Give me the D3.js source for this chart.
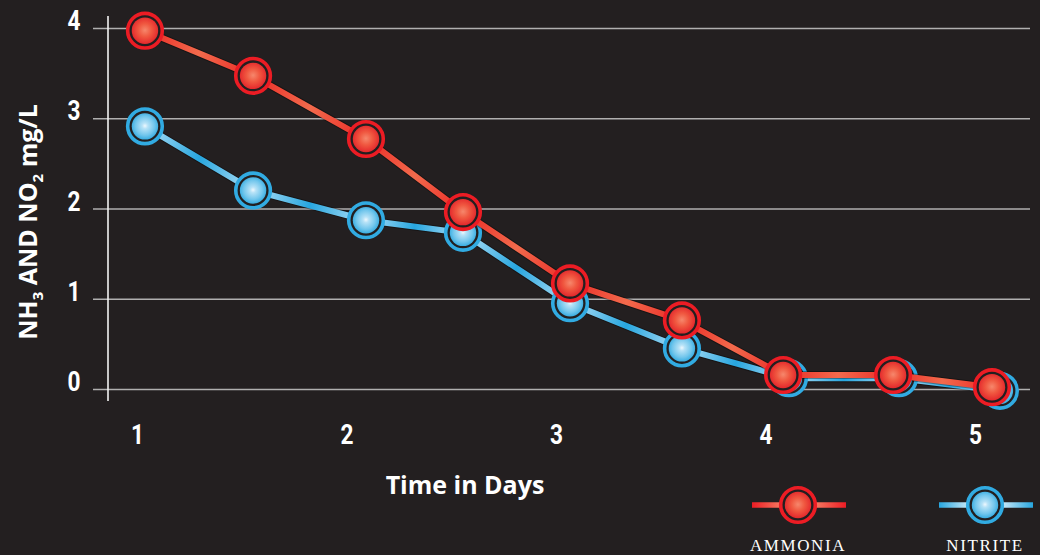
<!DOCTYPE html>
<html>
<head>
<meta charset="utf-8">
<script src="https://cdn.jsdelivr.net/npm/d3@7"></script>
<style>
  html, body { margin: 0; padding: 0; background: #231f20; }
  svg { display: block; }
</style>
</head>
<body>
<script>
// Sample times (days) and concentrations (mg/L)
const ammoniaDays  = [1.038, 1.554, 2.093, 2.556, 3.067, 3.601, 4.084, 4.609, 5.081];
const ammoniaVals  = [3.97, 3.47, 2.77, 1.96, 1.17, 0.76, 0.155, 0.155, 0.02];
const nitriteDays  = [1.038, 1.554, 2.093, 2.556, 3.067, 3.601, 4.112, 4.637, 5.119];
const nitriteVals  = [2.91, 2.20, 1.87, 1.73, 0.95, 0.45, 0.12, 0.12, -0.02];
const xTickValues  = [1, 2, 3, 4, 5];
const yTickValues  = [0, 1, 2, 3, 4];
const seriesNames  = ["AMMONIA", "NITRITE"];

const W = 1040, H = 555;
const BG = "#231f20";
const TICK_FONT = "'Roboto', 'Open Sans', sans-serif";

const svg = d3.select("body").append("svg")
  .attr("width", W).attr("height", H);

svg.append("rect").attr("width", W).attr("height", H).attr("fill", BG);

const x = d3.scaleLinear().domain([1, 5]).range([137, 975]);
const y = d3.scaleLinear().domain([0, 4]).range([389, 28]);

const defs = svg.append("defs");

// Sphere fills for the markers
function radial(id, stops) {
  const g = defs.append("radialGradient").attr("id", id)
    .attr("cx", "50%").attr("cy", "48%").attr("r", "55%");
  stops.forEach(([o, c]) => g.append("stop").attr("offset", o).attr("stop-color", c));
}
radial("ballRed",  [[0, "#f6876c"], [0.45, "#f05840"], [1, "#e3232a"]]);
radial("ballBlue", [[0, "#eef8fe"], [0.2, "#b6e2f7"], [0.65, "#72c6ec"], [1, "#2fa9e0"]]);

const styles = {
  ammonia: { ring: "#ec1c24", ball: "url(#ballRed)", ends: "#ea2a26", mid: "#f36a4c" },
  nitrite: { ring: "#31abe2", ball: "url(#ballBlue)", ends: "#b4e0f6", mid: "#27a6df" }
};

// Gridlines and value labels
const yAxis = d3.axisLeft(y).tickValues(yTickValues).tickSize(-(1030 - 93))
  .tickPadding(13).tickFormat(d3.format("d"));
const gy = svg.append("g").attr("transform", "translate(93,0)").call(yAxis);
gy.select(".domain").remove();
gy.selectAll(".tick line").attr("stroke", "#b0afaf").attr("stroke-width", 1.5);
gy.selectAll(".tick text")
  .attr("fill", "#ffffff")
  .attr("x", -15)
  .attr("y", -7)
  .attr("transform", "scale(0.84,1)")
  .style("font-family", TICK_FONT)
  .style("font-weight", "bold")
  .style("font-size", "27px");

// Vertical axis line
svg.append("line")
  .attr("x1", 108).attr("x2", 108).attr("y1", 16).attr("y2", 401)
  .attr("stroke", "#f2f2f2").attr("stroke-width", 1.6);

// Day labels
const xAxis = d3.axisBottom(x).tickValues(xTickValues).tickSize(0).tickPadding(36).tickFormat(d3.format("d"));
const gx = svg.append("g").attr("transform", `translate(0,${y(0)})`).call(xAxis);
gx.select(".domain").remove();
gx.selectAll(".tick text")
  .attr("fill", "#ffffff")
  .attr("transform", "scale(0.84,1)")
  .style("font-family", TICK_FONT)
  .style("font-weight", "bold")
  .style("font-size", "27px");

// Axis titles
svg.append("text")
  .attr("x", 465).attr("y", 494)
  .attr("text-anchor", "middle")
  .attr("fill", "#ffffff")
  .style("font-family", "'Open Sans', sans-serif")
  .style("font-weight", "bold")
  .style("font-size", "25px")
  .text("Time in Days");

const yt = svg.append("text")
  .attr("transform", "translate(37,222) rotate(-90)")
  .attr("text-anchor", "middle")
  .attr("fill", "#ffffff")
  .style("font-family", "'Open Sans', sans-serif")
  .style("font-weight", "bold")
  .style("font-size", "25px");
yt.append("tspan").text("NH");
yt.append("tspan").attr("dy", 6).style("font-size", "15px").text("3");
yt.append("tspan").attr("dy", -6).text(" AND NO");
yt.append("tspan").attr("dy", 6).style("font-size", "15px").text("2");
yt.append("tspan").attr("dy", -6).text(" mg/L");

// One gradient per segment so each stretch shades along its length
let gradCount = 0;
function segGradient(x1, y1, x2, y2, st, fromMarker) {
  const id = "seg" + (gradCount++);
  const g = defs.append("linearGradient").attr("id", id)
    .attr("gradientUnits", "userSpaceOnUse")
    .attr("x1", x1).attr("y1", y1).attr("x2", x2).attr("y2", y2);
  if (fromMarker) {
    g.append("stop").attr("offset", 0).attr("stop-color", st.mid);
    g.append("stop").attr("offset", 0.35).attr("stop-color", st.mid);
    g.append("stop").attr("offset", 1).attr("stop-color", st.ends);
  } else {
    g.append("stop").attr("offset", 0).attr("stop-color", st.ends);
    g.append("stop").attr("offset", 0.5).attr("stop-color", st.mid);
    g.append("stop").attr("offset", 1).attr("stop-color", st.ends);
  }
  return `url(#${id})`;
}

function drawMarker(g, cx, cy, st) {
  g.append("circle").attr("cx", cx).attr("cy", cy).attr("r", 17).attr("fill", BG);
  g.append("circle").attr("cx", cx).attr("cy", cy).attr("r", 17.3)
    .attr("fill", "none").attr("stroke", st.ring).attr("stroke-width", 3.6);
  g.append("circle").attr("cx", cx).attr("cy", cy).attr("r", 13.2).attr("fill", st.ball);
}

function drawSeries(days, vals, st) {
  const g = svg.append("g");
  const pts = days.map((d, i) => [x(d), y(vals[i])]);
  // shadow under the line
  g.append("path")
    .attr("d", d3.line()(pts))
    .attr("fill", "none").attr("stroke", "#000").attr("stroke-opacity", 0.35)
    .attr("stroke-width", 8).attr("stroke-linejoin", "round");
  for (let i = 0; i < pts.length - 1; i++) {
    const [x1, y1] = pts[i], [x2, y2] = pts[i + 1];
    g.append("line")
      .attr("x1", x1).attr("y1", y1).attr("x2", x2).attr("y2", y2)
      .attr("stroke", segGradient(x1, y1, x2, y2, st, false))
      .attr("stroke-width", 6).attr("stroke-linecap", "round");
  }
  pts.forEach(([cx, cy]) => drawMarker(g, cx, cy, st));
}

drawSeries(nitriteDays, nitriteVals, styles.nitrite);
drawSeries(ammoniaDays, ammoniaVals, styles.ammonia);

// Legend
const legendItems = [
  { name: seriesNames[0], st: styles.ammonia, cx: 798, mid: "#f67b62", ends: "#ec1c24" },
  { name: seriesNames[1], st: styles.nitrite, cx: 985, mid: "#cdeaf8", ends: "#27a6df" }
];
legendItems.forEach(item => {
  const g = svg.append("g");
  const cy = 505;
  [item.cx - 46, item.cx + 48].forEach(xEnd => {
    g.append("line")
      .attr("x1", item.cx).attr("y1", cy).attr("x2", xEnd).attr("y2", cy)
      .attr("stroke", segGradient(item.cx, cy, xEnd, cy, { mid: item.mid, ends: item.ends }, true))
      .attr("stroke-width", 5.5);
  });
  drawMarker(g, item.cx, cy, item.st);
  g.append("text")
    .attr("x", item.cx).attr("y", 551)
    .attr("text-anchor", "middle")
    .attr("fill", "#ffffff")
    .style("font-family", "'Liberation Serif', 'DejaVu Serif', serif")
    .style("font-size", "17px")
    .style("letter-spacing", "1.6px")
    .text(item.name);
});
</script>
</body>
</html>
